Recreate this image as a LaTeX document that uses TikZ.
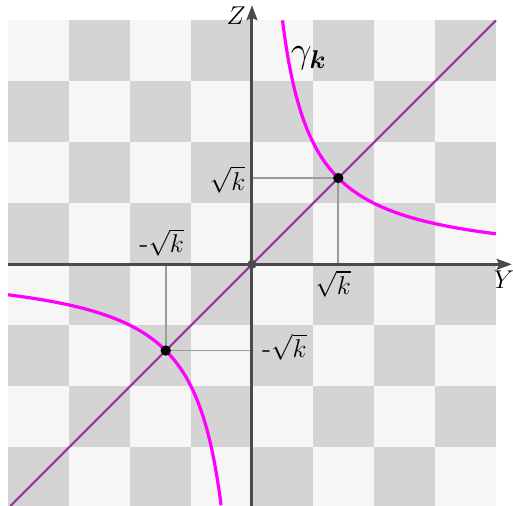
\documentclass[tikz,border=0pt]{standalone}
\usepackage{bm}
\usetikzlibrary{arrows.meta, positioning, calc}
\definecolor{axiscolor}{HTML}{4A4A4A}
\definecolor{lightsquare}{HTML}{F6F6F6}
\definecolor{darksquare}{HTML}{D4D4D4}
\definecolor{diagcolor}{HTML}{993399}
\definecolor{curvecolor}{HTML}{FF00FF}
\definecolor{helpercolor}{HTML}{9C9C9C}

\begin{document}
\begin{tikzpicture}[
  >=Stealth,
  every node/.style={font=\fontsize{13}{15}\selectfont},
]

\tikzset{
  axisline/.style={axiscolor, line width=1.4pt,
    -{Stealth[length=7pt, width=5pt, inset=1pt]}},
  diagline/.style={diagcolor, line width=1pt},
  hyperline/.style={curvecolor, line width=1.5pt},
  helperline/.style={helpercolor, line width=0.8pt},
  dot/.style={circle, fill=black, inner sep=0pt, minimum size=1.7mm},
  origindot/.style={circle, fill=axiscolor, inner sep=0pt, minimum size=1.5mm},
  lbl/.style={inner sep=1pt},
}

\useasboundingbox (-4.131,-3.962) rectangle (4.279,4.333);

% ---------------------------------------------------------------
% checkerboard
% ---------------------------------------------------------------
\begin{scope}
  \clip (-4,-3.962) rectangle (4,4);
  \fill[lightsquare] (-4,-4) rectangle (4,4);
  \foreach \i in {-4,...,3}
    \foreach \j in {-4,...,3}{
      \pgfmathtruncatemacro\parity{\i+\j+8}
      \ifodd\parity\else
        \fill[darksquare] (\i,\j) rectangle ++(1,1);
      \fi
    }
\end{scope}

% ---------------------------------------------------------------
% points
% ---------------------------------------------------------------
\coordinate (O)     at (0,0);
\coordinate (yleft) at (-4,0);
\coordinate (ytip)  at (4.26,0);
\coordinate (zbot)  at (0,-3.962);
\coordinate (ztip)  at (0,4.25);
\coordinate (dlow)  at (-3.962,-3.962);
\coordinate (dhigh) at (4,4);
\coordinate (P)     at ({sqrt(2)},{sqrt(2)});
\coordinate (Q)     at ({-sqrt(2)},{-sqrt(2)});

% helper lines to the axes
\draw[helperline] (P) -- (P |- O);
\draw[helperline] (P) -- (O |- P);
\draw[helperline] (Q) -- (Q |- O);
\draw[helperline] (Q) -- (O |- Q);

% axes
\draw[axisline] (yleft) -- (ytip);
\draw[axisline] (zbot) -- (ztip);

% diagonal Z = Y
\draw[diagline] (dlow) -- (dhigh);

% hyperbola Y Z = k
\draw[hyperline] plot[domain=0.5:4, samples=120, smooth] (\x,{2/\x});
\draw[hyperline] plot[domain=-4:-0.5048, samples=120, smooth] (\x,{2/\x});

\node[origindot] (o) at (O) {};
\node[dot]       (p) at (P) {};
\node[dot]       (q) at (Q) {};

% ---------------------------------------------------------------
% labels
% ---------------------------------------------------------------
\node[lbl] (ylab)  at (4.13,-0.25)  {$Y$};
\node[lbl] (zlab)  at (-0.26,4.08)  {$Z$};
\node[lbl, font=\fontsize{18}{20}\selectfont] (gamma) at (0.93,3.38) {$\gamma_{\bm{k}}$};
\node[lbl] (szl)   at (-0.40,1.39)  {$\sqrt{k}$};
\node[lbl] (syl)   at (1.33,-0.32)  {$\sqrt{k}$};
\node[lbl] (myl)   at (-1.48,0.36)  {-$\sqrt{k}$};
\node[lbl] (mzl)   at (0.53,-1.36)  {-$\sqrt{k}$};

\end{tikzpicture}
\end{document}
